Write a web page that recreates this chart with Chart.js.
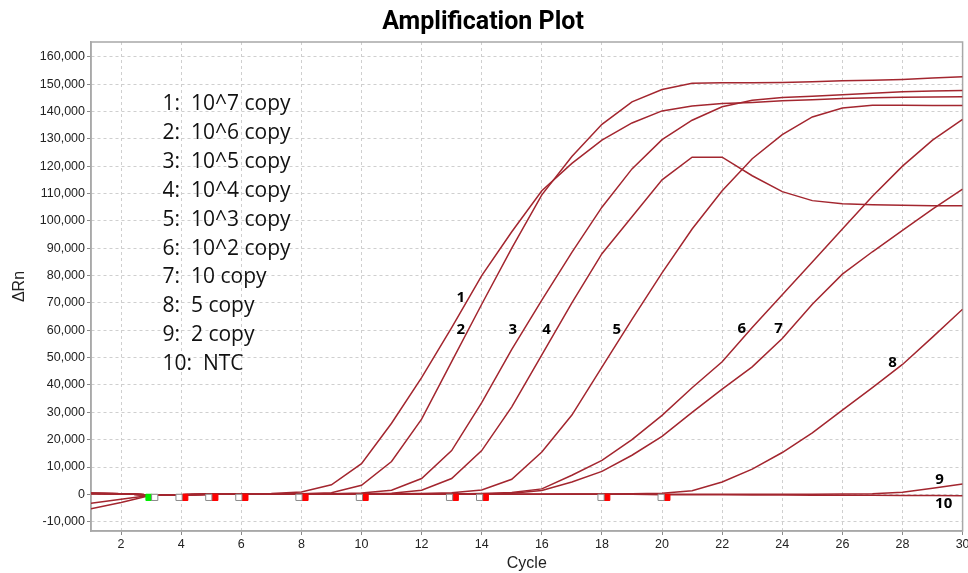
<!DOCTYPE html>
<html><head><meta charset="utf-8">
<script src="https://cdn.jsdelivr.net/npm/chart.js@4.4.1/dist/chart.umd.min.js"></script>
<style>html,body{margin:0;padding:0;background:#fff;}#wrap{width:968px;height:573px;}</style>
</head><body><div id="wrap"><canvas id="c" width="968" height="573"></canvas></div>
<script>
// ---------- data ----------
const cycles = [1,2,3,4,5,6,7,8,9,10,11,12,13,14,15,16,17,18,19,20,21,22,23,24,25,26,27,28,29,30];
const curve1 = [-5300,-3000,-300,-100,0,100,300,900,3500,11200,26000,42700,61000,80000,96000,111000,121000,129500,135800,140200,142000,142900,143300,143900,144300,144700,145000,145200,145300,145400];
const curve2 = [-3300,-1800,-300,-100,0,0,100,200,600,3300,12000,27500,48500,69500,90000,109500,123500,135300,143500,148000,150300,150500,150500,150600,150900,151200,151400,151700,152200,152700];
const curve3 = [300,200,-200,-100,0,0,0,100,200,500,1500,5800,16000,33500,53000,71000,88500,105000,119000,129700,136800,141700,144100,145100,145600,146100,146700,147200,147500,147700];
const curve4 = [400,200,-200,-100,0,0,0,0,100,200,400,1500,5800,16000,32000,51000,70000,88000,101500,115000,123300,123300,116500,110700,107400,106300,105900,105700,105500,105500];
const curve5 = [400,200,-200,-100,0,0,0,0,0,100,200,300,600,1600,5500,15500,29000,46500,64000,81000,97000,111000,122700,131500,138000,141300,142300,142300,142200,142200];
const curve6 = [300,200,-200,-100,0,0,0,0,0,0,0,100,100,300,700,2000,7000,12400,20000,28900,39000,48500,61000,73000,85000,97000,109000,120000,129500,137100];
const curve7 = [300,200,-200,-100,0,0,0,0,0,0,0,0,100,100,400,1400,4500,8400,14300,21200,30000,38500,46600,57000,69500,80500,88700,96500,104300,111600];
const curve8 = [300,200,-200,-100,0,0,0,0,0,0,0,0,0,0,0,0,100,100,200,400,1300,4500,9200,15300,22500,30800,39000,47500,57500,67700];
const curve9 = [300,200,-200,-100,0,0,0,0,0,0,0,0,0,0,0,0,0,0,0,0,0,0,0,0,0,100,200,800,2200,3800];
const curve10 = [300,200,-200,-100,0,0,0,0,0,0,0,0,0,0,0,0,0,0,0,-100,-100,-100,-200,-200,-300,-300,-300,-400,-400,-500];
const curves = [curve1,curve2,curve3,curve4,curve5,curve6,curve7,curve8,curve9,curve10];

// baseline markers (cycle positions) and their level
const greenMarkers = [2.93];
const greyMarkers = [3.12,3.93,4.92,5.92,7.92,9.93,12.93,13.93,17.97,19.97];
const redMarkers = [4.12,5.12,6.12,8.12,10.12,13.12,14.12,18.16,20.16];
const markerLevel = -1100;

// tick labels
const xTicks = [2,4,6,8,10,12,14,16,18,20,22,24,26,28,30];
const yTicks = [-10000,0,10000,20000,30000,40000,50000,60000,70000,80000,90000,100000,110000,120000,130000,140000,150000,160000];

// texts
const titleText = 'Amplification Plot';
const legendLines = ['1:  10^7 copy','2:  10^6 copy','3:  10^5 copy','4:  10^4 copy','5:  10^3 copy','6:  10^2 copy','7:  10 copy','8:  5 copy','9:  2 copy','10:  NTC'];
const curveLabelText = ['1','2','3','4','5','6','7','8','9','10'];
const curveLabelX = [13.3,13.3,15.03,16.16,18.49,22.65,23.88,27.67,29.23,29.37];
const curveLabelY = [72000,60300,60300,60300,60300,60600,60600,48200,5300,-3500];

// ---------- chart ----------
const RED = '#a3262f';
const lineSets = curves.map((arr, k) => ({
  label: 'curve' + (k + 1),
  data: cycles.map((c, i) => ({x: c, y: arr[i]})),
  borderColor: RED, borderWidth: 1.5, pointRadius: 0, tension: 0, fill: false, order: 2
}));
const mk = (xs, fill, stroke) => ({
  type: 'scatter',
  data: xs.map(x => ({x: x, y: markerLevel})),
  pointStyle: 'rect', pointRadius: 4.4, pointBackgroundColor: fill, pointBorderColor: stroke,
  pointBorderWidth: 1, order: 0, showLine: false
});
const markerSets = [mk(greyMarkers, '#ffffff', '#8a8a8a'), mk(redMarkers, '#ff0000', '#ff0000'), mk(greenMarkers, '#00ee00', '#00ee00')];

const framePlugin = {
  id: 'frame',
  beforeDatasetsDraw(chart) {
    const {ctx, chartArea: a} = chart;
    ctx.save();
    ctx.strokeStyle = '#a8a8a8';
    ctx.lineWidth = 1.5;
    ctx.strokeRect(a.left, a.top, a.right - a.left, a.bottom - a.top);
    ctx.restore();
  }
};
const textPlugin = {
  id: 'texts',
  afterDraw(chart) {
    const {ctx} = chart;
    const xs = chart.scales.x, ys = chart.scales.y;
    ctx.save();
    ctx.fillStyle = '#000';
    ctx.textAlign = 'center';
    ctx.textBaseline = 'middle';
    ctx.font = 'bold 25px Roboto';
    ctx.fillText(titleText, 483, 23);
    // legend block
    ctx.font = '21px "Open Sans"';
    ctx.textAlign = 'left';
    ctx.fillStyle = '#111';
    legendLines.forEach((t, i) => {
      ctx.fillText(t, xs.getPixelForValue(3.38), ys.getPixelForValue(142600 - i * 10550));
    });
    // curve labels
    ctx.font = 'bold 15px "Open Sans"';
    ctx.textAlign = 'center';
    ctx.fillStyle = '#000';
    curveLabelText.forEach((t, i) => {
      ctx.fillText(t, xs.getPixelForValue(curveLabelX[i]), ys.getPixelForValue(curveLabelY[i]));
    });
    ctx.restore();
  }
};

new Chart(document.getElementById('c').getContext('2d'), {
  type: 'line',
  data: {datasets: [...markerSets, ...lineSets]},
  options: {
    responsive: false, animation: false, devicePixelRatio: 1,
    layout: {padding: {top: 42, right: 5, left: 0, bottom: 0}},
    plugins: {legend: {display: false}, tooltip: {enabled: false}, title: {display: false}},
    scales: {
      x: {
        type: 'linear', min: 1, max: 30,
        afterBuildTicks: s => { s.ticks = xTicks.map(v => ({value: v})); },
        afterFit: s => { s.height = 42; s.paddingRight = 0; s.paddingLeft = 0; },
        ticks: {font: {family: 'Liberation Sans', size: 12.5}, color: '#222', padding: 2, maxRotation: 0, autoSkip: false},
        grid: {color: '#cfcfcf', lineWidth: 1, tickLength: 4, tickColor: '#8a8a8a'},
        border: {display: true, color: '#a8a8a8', width: 1.5, dash: [3, 3]},
        title: {display: true, text: 'Cycle', font: {family: 'Liberation Sans', size: 16}, color: '#222', padding: {top: 0, bottom: 0}}
      },
      y: {
        type: 'linear', min: -13400, max: 165400,
        afterBuildTicks: s => { s.ticks = yTicks.map(v => ({value: v})); },
        afterFit: s => { s.width = 91; s.paddingTop = 0; s.paddingBottom = 0; },
        ticks: {font: {family: 'Liberation Sans', size: 12.5}, color: '#222', padding: 2,
                callback: v => Number(v).toLocaleString('en-US')},
        grid: {color: '#cfcfcf', lineWidth: 1, tickLength: 4, tickColor: '#8a8a8a'},
        border: {display: true, color: '#a8a8a8', width: 1.5, dash: [3, 3]},
        title: {display: true, text: 'ΔRn', font: {family: 'Liberation Sans', size: 16}, color: '#222', padding: {top: 10, bottom: 0}}
      }
    }
  },
  plugins: [framePlugin, textPlugin]
});
</script>
</body></html>
